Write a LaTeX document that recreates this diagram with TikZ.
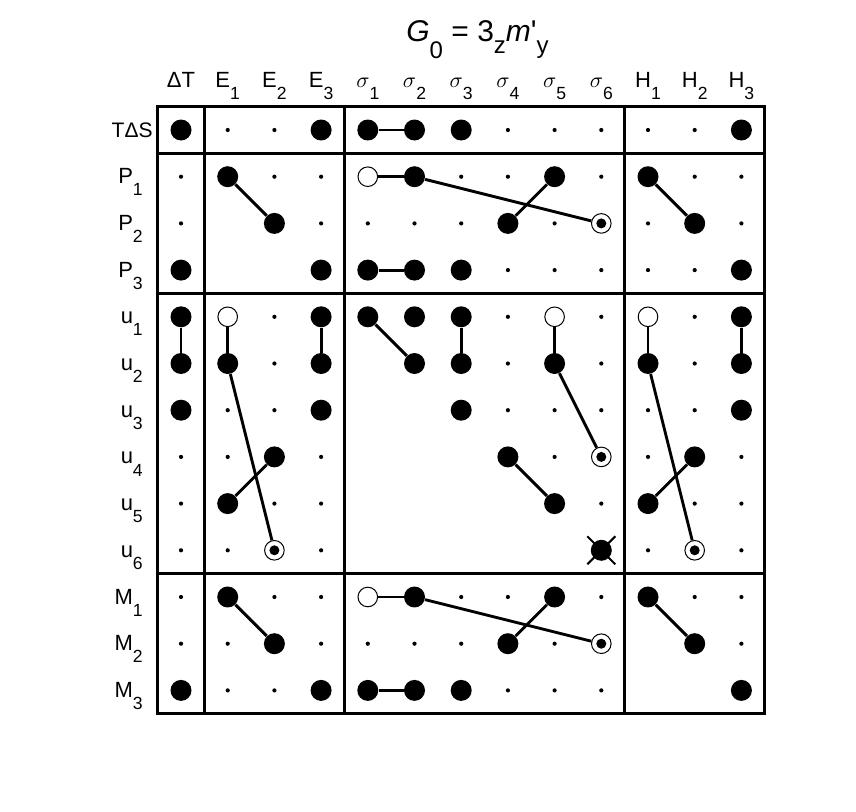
\documentclass[tikz,border=0pt]{standalone}
\usepackage{fontspec}
\setmainfont{Liberation Sans}
\usepackage{graphicx}

\newcommand{\sub}[1]{\raisebox{-\height}{\scalebox{0.8}{#1}}}

\tikzset{
  dotb/.style={circle, fill, inner sep=0pt, minimum size=10.5pt},
  dots/.style={circle, fill, inner sep=0pt, minimum size=2.1pt},
  doto/.style={circle, draw, fill=white, line width=0.5pt, inner sep=0pt, minimum size=9.8pt},
  dotc/.style={doto, path picture={\fill[black] (path picture bounding box.center) circle (2.5pt);}},
  dotx/.style={dotb},
  dotn/.style={inner sep=0pt, minimum size=0pt},
  link/.style={line width=1.45pt},
  frame/.style={line width=1.6pt},
  rowlab/.style={anchor=base east, inner sep=0pt, font=\fontsize{11}{13}\selectfont},
  collab/.style={anchor=base, inner sep=0pt, font=\fontsize{11}{13}\selectfont},
}

\begin{document}
\begin{tikzpicture}[x=23.35pt, y=-23.35pt]
    \useasboundingbox (-3.876,-2.784) rectangle (14.454,14.604);

    % title
    \node[anchor=base, font=\fontsize{15}{17}\selectfont] (title) at (6.35,-1.9)
        {\textit{G}\sub{0} = 3\sub{z}\textit{m}\textquotesingle\sub{y}};

    % column and row labels
    \foreach \lab [count=\c from 0] in {ΔT, E\sub{1}, E\sub{2}, E\sub{3},
        $\sigma$\sub{1}, $\sigma$\sub{2}, $\sigma$\sub{3}, $\sigma$\sub{4}, $\sigma$\sub{5}, $\sigma$\sub{6},
        H\sub{1}, H\sub{2}, H\sub{3}}
        \node[collab] (h\c) at (\c,-0.92) {\lab};
    \node[rowlab, font=\fontsize{10.5}{13}\selectfont] (r0) at (-0.6,0.15) {TΔS};
    \foreach \lab [count=\r from 1] in {P\sub{1}, P\sub{2}, P\sub{3},
        u\sub{1}, u\sub{2}, u\sub{3}, u\sub{4}, u\sub{5}, u\sub{6},
        M\sub{1}, M\sub{2}, M\sub{3}}
        \node[rowlab] (r\r) at (-0.81,\r+0.15) {\lab};

    % frame
    \draw[frame] (-0.5,-0.5) rectangle (12.5,12.5);
    \foreach \x in {0.5,3.5,9.5} \draw[frame] (\x,-0.5) -- (\x,12.5);
    \foreach \y in {0.5,3.5,9.5} \draw[frame] (-0.5,\y) -- (12.5,\y);

    % dots: b big, s small, o open, c circled, x crossed, n none
    \foreach \r/\row in {
        0/{b,s,s,b,b,b,b,s,s,s,s,s,b},
        1/{s,b,s,s,o,b,s,s,b,s,b,s,s},
        2/{s,n,b,s,s,s,s,b,s,c,s,b,s},
        3/{b,n,n,b,b,b,b,s,s,s,s,s,b},
        4/{b,o,s,b,b,b,b,s,o,s,o,s,b},
        5/{b,b,s,b,n,b,b,s,b,s,b,s,b},
        6/{b,s,s,b,n,n,b,s,s,s,s,s,b},
        7/{s,s,b,s,n,n,n,b,s,c,s,b,s},
        8/{s,b,s,s,n,n,n,n,b,s,b,s,s},
        9/{s,s,c,s,n,n,n,n,n,x,s,c,s},
        10/{s,b,s,s,o,b,s,s,b,s,b,s,s},
        11/{s,s,b,s,s,s,s,b,s,c,n,b,s},
        12/{b,s,s,b,b,b,b,s,s,s,n,n,b}}
        \foreach \t [count=\c from 0] in \row
            \node[dot\t] (n\c-\r) at (\c,\r) {};
    \draw[line width=1pt] ([shift={(-7pt,-7pt)}]n9-9.center) -- ([shift={(7pt,7pt)}]n9-9.center);
    \draw[line width=1pt] ([shift={(-7pt,7pt)}]n9-9.center) -- ([shift={(7pt,-7pt)}]n9-9.center);

    % links
    \foreach \a/\b in {n4-0/n5-0,
        n1-1/n2-2, n4-1/n5-1, n5-1/n9-2, n8-1/n7-2, n10-1/n11-2, n4-3/n5-3,
        n0-4/n0-5, n1-4/n1-5, n3-4/n3-5, n1-5/n2-9, n2-7/n1-8,
        n4-4/n5-5, n6-4/n6-5, n8-4/n8-5, n8-5/n9-7, n7-7/n8-8,
        n10-4/n10-5, n12-4/n12-5, n10-5/n11-9, n11-7/n10-8,
        n1-10/n2-11, n4-10/n5-10, n5-10/n9-11, n8-10/n7-11, n10-10/n11-11, n4-12/n5-12}
        \draw[link] (\a) -- (\b);
\end{tikzpicture}
\end{document}
